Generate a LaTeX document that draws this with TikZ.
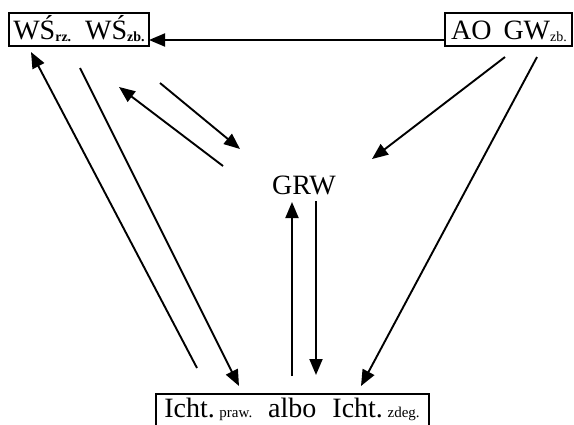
\documentclass[tikz,border=0pt]{standalone}
\usepackage{fontspec}
\setmainfont{Liberation Serif}
\usetikzlibrary{arrows.meta}
\newcommand{\subsm}[1]{\raisebox{-2pt}{\fontsize{14}{16}\selectfont #1}}
\begin{document}
\begin{tikzpicture}[x=1pt,y=-1pt,
  boxnode/.style={draw,line width=1.8pt,inner sep=0pt,anchor=north west},
  lbl/.style={font=\fontsize{28}{30}\selectfont,inner sep=0pt},
  arr/.style={line width=1.9pt,-{Triangle[length=16pt,width=13pt]}}]
\useasboundingbox (0,0) rectangle (574,424);
\node[boxnode,minimum width=140pt,minimum height=33pt] (ws) at (8,12) {};
\node[lbl,anchor=base] (wst) at (79,39) {WŚ\subsm{\bfseries rz.}\hspace{14pt}WŚ\subsm{\bfseries zb.}};
\node[boxnode,minimum width=127pt,minimum height=33pt] (ao) at (444,12) {};
\node[lbl,anchor=base] (aot) at (509,39) {AO\hspace{12pt}GW\subsm{zb.}};
\node[boxnode,minimum width=273pt,minimum height=34pt] (icht) at (155,393) {};
\node[lbl,anchor=base] (ichtt) at (292,417) {Icht.\,{\fontsize{15}{17}\selectfont praw.}\hspace{16pt}albo\hspace{16pt}Icht.\,{\fontsize{15}{17}\selectfont zdeg.}};
\node[lbl,anchor=base] (grw) at (304,194) {GRW};
% coordinates
\coordinate (h1) at (444,40);
\coordinate (h2) at (149,40);
\coordinate (a1) at (197,368);
\coordinate (a2) at (31,52);
\coordinate (b1) at (80,68);
\coordinate (b2) at (239,386);
\coordinate (c1) at (160,83);
\coordinate (c2) at (240,149);
\coordinate (d1) at (223,166);
\coordinate (d2) at (119,87);
\coordinate (e1) at (505,57);
\coordinate (e2) at (372,159);
\coordinate (f1) at (537,57);
\coordinate (f2) at (361,386);
\coordinate (g1) at (292,376);
\coordinate (g2) at (292,202);
\coordinate (k1) at (316,201);
\coordinate (k2) at (316,375);
\draw[arr] (h1) -- (h2);
\draw[arr] (a1) -- (a2);
\draw[arr] (b1) -- (b2);
\draw[arr] (c1) -- (c2);
\draw[arr] (d1) -- (d2);
\draw[arr] (e1) -- (e2);
\draw[arr] (f1) -- (f2);
\draw[arr] (g1) -- (g2);
\draw[arr] (k1) -- (k2);
\end{tikzpicture}
\end{document}
